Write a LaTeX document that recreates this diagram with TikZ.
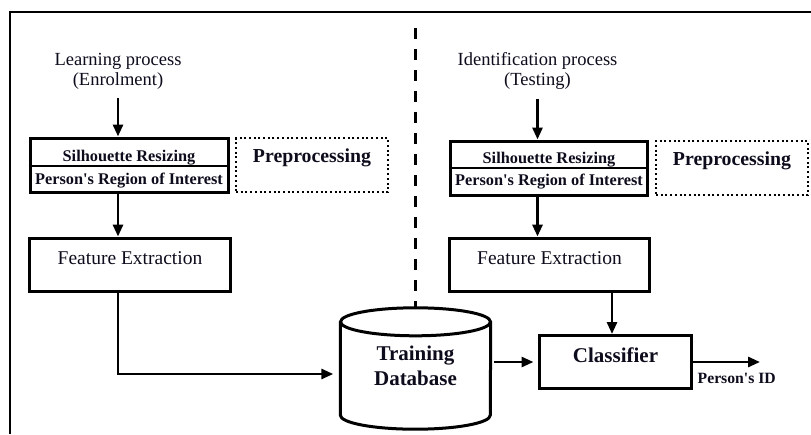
\documentclass[tikz,border=0pt]{standalone}
\usepackage{fontspec}
\setmainfont{Liberation Serif}
\usetikzlibrary{arrows.meta}
\definecolor{InkColor}{RGB}{12,12,28}

\begin{document}
\begin{tikzpicture}[x=1pt,y=-1pt,
  arr/.style={line width=2.8pt,-{Triangle[length=12pt,width=10pt]}},
  blk/.style n args={2}{draw,line width=3pt,minimum width=#1,minimum height=#2,inner sep=0pt,text=InkColor},
  dotblk/.style={draw,line width=2pt,dash pattern=on 2pt off 2.7pt,minimum width=152pt,minimum height=54pt,inner sep=0pt,text=InkColor,font=\bfseries\fontsize{19.8}{22}\selectfont,text height=14pt,text depth=19pt},
  proc/.style={align=center,inner sep=0pt,text=InkColor,font=\fontsize{18.5}{20}\selectfont},
  feat/.style={blk={#1}{53.5pt},font=\fontsize{19.5}{22}\selectfont,text height=14pt,text depth=14pt},
  part/.style={anchor=base,inner sep=0pt,text=InkColor,font=\bfseries\fontsize{16.3}{18}\selectfont}]
\useasboundingbox (0,0) rectangle (811,434);
% frame and divider
\draw[line width=2.5pt] (10,434) -- (10,12) -- (811,12);
\coordinate (divtop) at (415,28);

% learning side
\node[proc] (learn) at (118,71) {Learning process\\(Enrolment)};
\node[blk={198pt}{54pt}] (silL) at (129,165) {};
\node[part] (silLa) at ([yshift=4pt]silL.center) {Silhouette Resizing};
\node[part] (silLb) at ([yshift=-19pt]silL.center) {Person\textquotesingle s Region of Interest};
\draw[line width=1.5pt] ([yshift=-1pt]silL.west) -- ([yshift=-1pt]silL.east);
\node[dotblk] (preL) at (312,165.3) {Preprocessing};
\node[feat=201pt] (featL) at (130,264.8) {Feature Extraction};

% identification side
\node[proc] (ident) at (537.5,71) {Identification process\\(Testing)};
\node[blk={197pt}{54pt}] (silR) at (549,168) {};
\node[part] (silRa) at ([yshift=5pt]silR.center) {Silhouette Resizing};
\node[part] (silRb) at ([yshift=-17pt]silR.center) {Person\textquotesingle s Region of Interest};
\draw[line width=1.5pt] (silR.west) -- (silR.east);
\node[dotblk] (preR) at (732,168) {Preprocessing};
\node[feat=200pt] (featR) at (549.5,264.8) {Feature Extraction};

% database and classifier
\node[minimum width=150pt,minimum height=121pt,inner sep=0pt,align=center,text=InkColor,
  font=\bfseries\fontsize{21}{25}\selectfont,text height=36pt,text depth=3pt] (db) at (415.5,368.5) {Training\\Database};
\draw[line width=3pt] ([yshift=-14pt]db.north) ellipse [x radius=75pt,y radius=14pt];
\draw[line width=3pt] ([yshift=-14pt]db.north west) -- ([yshift=14pt]db.south west)
   arc[start angle=180,end angle=360,x radius=75pt,y radius=14pt] -- ([yshift=-14pt]db.north east);
\node[blk={152pt}{53pt},font=\bfseries\fontsize{21}{25}\selectfont,text height=14pt,text depth=14pt] (cls) at (615.5,362) {Classifier};
\coordinate (out) at (760,362);
\node[anchor=base west,inner sep=0pt,text=InkColor,font=\bfseries\fontsize{15.7}{17}\selectfont] (pid) at (697.5,383.3) {Person\textquotesingle s ID};

% connectors
\draw[line width=3pt,dash pattern=on 11pt off 10pt] (divtop) -- (divtop |- db.north);
\draw[arr,shorten <=9pt] (learn) -- (learn |- silL.north);
\draw[arr] (learn |- silL.south) -- (learn |- featL.north);
\draw[arr,shorten >=7pt] (learn |- featL.south) |- ([yshift=-5.5pt]db.west);
\draw[arr,shorten <=9pt] (ident) -- (ident |- silR.north);
\draw[arr] (ident |- silR.south) -- (ident |- featR.north);
\coordinate (clsin) at ([xshift=-3.5pt]cls.north);
\draw[arr] (featR.south -| clsin) -- (clsin);
\draw[arr,shorten <=3pt,shorten >=4.5pt] (db.east |- cls) -- (cls);
\draw[arr] (cls) -- (out);
\end{tikzpicture}
\end{document}
